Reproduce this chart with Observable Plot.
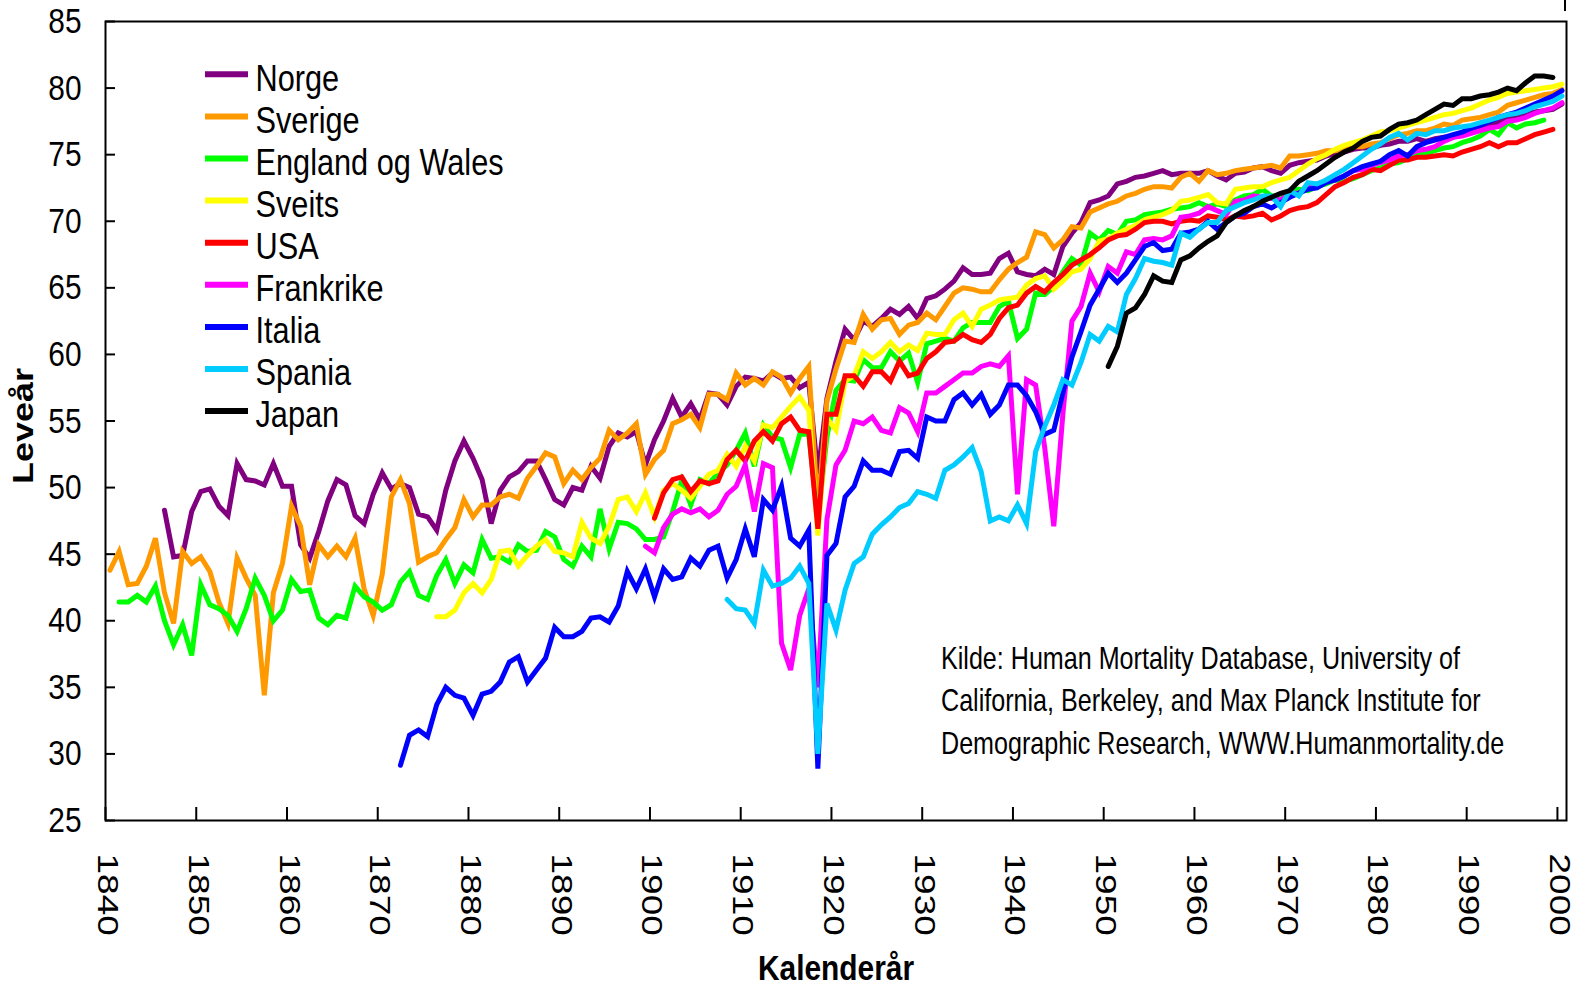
<!DOCTYPE html>
<html><head><meta charset="utf-8">
<script src="https://cdn.jsdelivr.net/npm/d3@7"></script>
<script src="https://cdn.jsdelivr.net/npm/@observablehq/plot@0.6"></script>
<style>body{margin:0;background:#fff} #chart{width:1579px;height:987px}</style>
</head><body><div id="chart"></div>
<script>
const countries = ["Norge","Sverige","England og Wales","Sveits","USA","Frankrike","Italia","Spania","Japan"];
const colors = ["#800080","#FF9900","#00FF00","#FFFF00","#FF0000","#FF00FF","#0000FF","#00CCFF","#000000"];
const startYears = [1846,1840,1841,1876,1900,1899,1872,1908,1950];
const xTicks = [1840,1850,1860,1870,1880,1890,1900,1910,1920,1930,1940,1950,1960,1970,1980,1990,2000];
const yTicks = [25,30,35,40,45,50,55,60,65,70,75,80,85];

const norge = [48.3,44.8,44.9,48.2,
49.7,49.9,48.6,47.9,51.8,50.6,50.5,50.2,51.8,50.1,
50.1,45.7,44.7,46.7,49.0,50.6,50.2,47.9,47.3,49.5,
51.1,49.9,50.3,50.0,48.0,47.8,46.8,49.8,52.0,53.5,
52.2,50.6,47.3,49.8,50.8,51.2,52.0,52.0,50.6,49.1,
48.7,50.0,49.8,51.6,50.7,53.1,54.1,53.8,54.2,51.7,
53.6,55.0,56.7,55.3,56.3,55.1,57.1,57.0,56.2,57.6,
58.3,58.2,58.0,58.6,58.2,58.3,57.5,57.9,51.0,56.7,
59.5,61.9,61.1,62.5,62.1,62.7,63.4,63.0,63.6,62.7,
64.2,64.4,64.9,65.5,66.5,66.0,66.0,66.1,67.2,67.6,
66.2,66.0,65.9,66.4,66.0,68.1,69.1,69.9,71.4,71.6,
71.9,72.8,73.0,73.3,73.4,73.6,73.8,73.5,73.6,73.6,
73.6,73.8,73.4,73.1,73.6,73.7,74.0,74.1,73.8,73.6,
74.2,74.4,74.5,74.6,74.9,75.1,75.2,75.4,75.5,75.5,
75.7,75.8,76.0,76.0,76.2,76.0,76.2,76.3,76.3,76.6,
76.7,77.0,77.3,77.4,77.8,77.8,78.1,78.2,78.3,78.4,
78.8];

const sverige = [43.8,45.2,42.7,42.8,44.1,46.2,42.1,39.8,45.2,44.3,
44.8,43.7,41.4,39.8,44.7,43.2,41.9,34.4,42.1,44.3,
48.6,47.1,42.7,45.7,44.8,45.6,44.8,46.2,42.4,40.4,
43.5,49.3,50.6,48.8,44.4,44.8,45.1,46.1,47.0,49.1,
47.8,48.7,48.7,49.3,49.5,49.2,50.7,51.6,52.6,52.3,
50.3,51.3,50.6,51.5,52.2,54.3,53.6,54.1,54.8,51.0,
52.1,52.8,54.8,55.1,55.5,54.5,57.0,57.0,56.6,58.6,
57.7,58.2,57.7,58.7,58.3,57.1,58.2,59.1,48.3,56.5,
58.9,61.0,60.9,63.0,61.9,62.6,62.7,61.5,62.2,62.4,
63.1,62.6,63.6,64.6,65.0,64.9,64.7,64.7,65.6,66.4,
66.9,67.3,69.2,69.0,68.0,68.6,69.6,69.5,70.7,71.0,
71.3,71.5,71.9,72.1,72.4,72.6,72.6,72.5,73.3,73.6,
73.0,73.8,73.5,73.6,73.8,73.9,74.0,74.1,74.2,74.0,
74.9,74.9,75.0,75.1,75.3,75.3,75.4,75.6,75.6,75.8,
75.9,76.2,76.5,76.6,76.8,76.8,77.0,77.3,77.2,77.6,
77.7,77.8,78.0,78.2,78.7,78.9,79.1,79.3,79.5,79.6,
79.9];

const england = [41.4,41.4,41.9,41.4,42.6,40.0,38.2,39.7,37.4,
42.7,41.2,40.9,40.4,39.2,40.9,43.2,41.9,40.0,40.8,
43.1,42.2,42.3,40.2,39.7,40.4,40.2,42.6,41.8,41.4,
40.8,41.2,42.9,43.7,41.9,41.6,43.4,44.6,42.8,44.2,
43.6,46.1,44.7,44.8,44.4,45.7,45.2,45.3,46.7,46.3,
44.6,44.1,45.6,44.8,48.4,45.4,47.4,47.3,46.9,46.1,
46.1,46.3,48.2,50.5,48.7,50.6,50.3,51.1,51.7,52.8,
54.1,51.6,54.7,53.8,53.6,51.5,54.0,54.0,47.6,53.8,
57.3,58.1,58.0,59.6,59.0,59.0,60.2,59.5,60.1,57.9,
60.8,61.0,61.2,61.0,62.0,62.4,62.4,62.4,63.6,64.0,
61.2,61.9,64.6,64.5,65.1,66.2,67.2,66.7,69.1,68.6,
69.3,69.0,70.0,70.1,70.5,70.6,70.7,70.9,71.0,71.1,
71.4,71.1,71.3,71.1,71.6,71.9,72.0,72.4,71.9,71.9,
72.3,72.4,72.3,72.6,72.8,73.1,73.0,73.2,73.5,73.8,
74.0,74.3,74.4,74.7,75.0,75.1,75.3,75.5,75.6,75.9,
76.1,76.4,76.9,76.5,77.4,77.0,77.3,77.4,77.6];

const sveits = [40.3,40.3,40.8,42.1,
42.8,42.1,43.1,45.2,45.3,44.1,44.9,45.6,46.1,45.2,
45.1,44.8,47.4,46.2,45.8,47.1,49.1,49.3,48.2,49.6,
47.8,49.8,50.3,49.8,49.2,50.1,51.0,51.3,52.5,51.6,
53.1,52.0,54.7,54.5,55.3,56.1,56.8,55.8,46.4,55.2,
54.3,58.0,58.4,60.2,59.7,60.2,60.9,60.2,60.7,60.3,
61.6,61.5,61.5,62.6,63.1,62.1,63.4,63.7,64.1,64.2,
64.3,65.2,65.7,65.9,64.9,65.5,66.2,66.4,67.2,68.5,
68.7,69.1,69.4,69.7,70.1,70.3,70.5,70.8,71.5,71.6,
71.8,72.0,71.4,71.3,72.4,72.5,72.6,72.6,72.9,73.1,
73.3,73.8,74.3,74.7,75.0,75.4,75.7,75.9,76.1,76.4,
76.7,76.8,77.0,77.2,77.4,77.6,77.8,78.0,78.1,78.3,
78.5,78.8,79.1,79.3,79.6,79.7,79.8,79.9,80.0,80.1,
80.3];

const usa = [47.7,49.6,50.6,50.8,49.7,50.5,50.3,50.5,52.1,52.8,
52.0,53.5,54.2,53.5,54.8,55.3,54.3,54.2,46.9,55.5,
55.5,58.4,58.4,57.6,58.7,58.7,58.0,59.5,58.4,58.6,
59.7,60.2,60.9,61.0,61.5,61.1,60.9,61.5,62.7,63.5,
63.7,64.6,65.1,64.7,65.4,66.0,66.7,67.1,67.5,68.0,
68.6,68.9,69.0,69.4,69.9,70.0,70.0,69.8,70.0,70.1,
70.0,70.4,70.3,70.1,70.4,70.3,70.4,70.6,70.1,70.4,
70.8,71.0,71.1,71.4,72.0,72.6,72.9,73.3,73.5,73.9,
73.8,74.2,74.6,74.6,74.8,74.8,74.9,75.0,74.9,75.2,
75.4,75.6,75.9,75.6,75.9,75.9,76.2,76.5,76.7,76.9];

const frankrike = [45.6,
45.1,47.0,48.0,48.4,48.1,48.4,47.8,48.3,49.5,50.1,
51.7,48.2,51.8,51.5,38.3,36.3,40.4,42.4,35.0,47.6,
51.7,52.8,55.0,54.8,55.3,54.3,54.1,56.0,55.6,54.2,
57.1,57.1,57.6,58.1,58.6,58.6,59.1,59.3,59.1,59.9,
49.5,58.1,57.7,53.0,47.1,55.5,62.5,63.6,66.1,64.7,
66.6,66.1,67.7,67.5,68.6,68.7,68.6,68.9,70.3,70.4,
70.6,71.1,70.8,70.5,71.5,71.6,71.9,71.8,71.7,71.6,
72.1,72.1,72.6,72.8,73.0,73.1,73.4,73.8,73.9,74.2,
74.4,74.6,74.9,75.0,75.3,75.4,75.6,76.0,76.3,76.4,
76.6,76.8,77.0,77.1,77.5,77.6,77.8,78.1,78.3,78.5,
78.9];

const italia = [29.15,31.4,31.8,31.3,33.7,35.0,34.4,34.2,
32.9,34.5,34.7,35.4,36.9,37.3,35.4,36.3,37.2,39.5,
38.8,38.8,39.2,40.2,40.3,39.9,41.1,43.7,42.4,43.9,
41.8,43.9,43.1,43.3,44.7,44.1,45.3,45.6,43.2,44.6,
46.9,44.8,49.1,48.3,50.1,46.2,45.6,46.8,28.9,44.9,
45.8,49.3,50.1,52.0,51.3,51.3,51.0,52.7,52.8,52.2,
55.3,55.0,55.0,56.6,57.1,56.2,57.0,55.5,56.2,57.7,
57.7,56.9,55.7,54.0,54.3,57.1,59.8,61.7,63.7,64.9,
66.1,65.4,66.1,67.1,68.1,68.4,67.8,67.9,69.1,69.2,
69.4,70.0,69.4,69.9,70.4,70.6,71.1,71.3,71.0,71.4,
71.8,72.1,72.4,72.5,72.9,73.1,73.4,73.8,74.1,74.3,
74.5,75.0,75.3,74.9,75.6,75.9,76.1,76.3,76.5,76.7,
77.0,77.2,77.5,77.8,78.0,78.2,78.5,78.8,79.1,79.4,
79.8];

const spania = [41.6,40.9,
40.8,39.8,43.8,42.6,42.8,43.2,44.1,42.8,30.0,41.3,
39.3,42.3,44.3,44.8,46.5,47.2,47.8,48.5,48.8,49.7,
49.5,49.2,51.3,51.7,52.3,53.0,51.2,47.5,47.8,47.5,
48.7,47.3,52.7,54.6,56.2,58.1,57.7,59.4,61.5,61.0,
62.1,61.7,64.5,65.7,67.2,67.0,66.9,66.7,69.1,68.8,
69.4,69.9,69.9,70.8,71.1,71.4,71.6,71.9,71.9,71.1,
72.3,71.9,72.9,72.8,73.1,73.5,73.9,74.4,74.9,75.4,
75.8,76.3,76.6,76.1,76.6,76.5,76.8,76.8,77.0,77.1,
77.2,77.4,77.6,77.8,78.0,78.1,78.3,78.6,78.8,79.0,
79.4];

const japan = [59.1,60.6,63.1,63.5,64.5,65.9,65.5,65.4,67.1,67.4,
68.0,68.5,68.9,69.9,70.4,70.8,71.1,71.5,71.8,72.1,
72.3,73.0,73.4,73.8,74.3,74.8,75.2,75.5,76.0,76.3,
76.4,76.9,77.3,77.4,77.6,78.0,78.4,78.8,78.7,79.2,
79.2,79.4,79.5,79.7,80.0,79.8,80.4,80.9,80.9,80.8];

const sourceText = "Kilde: Human Mortality Database, University of\nCalifornia, Berkeley, and Max Planck Institute for\nDemographic Research, WWW.Humanmortality.de";
const xTitle = "Kalenderår";
const yTitle = "Leveår";

const valueArrays = [norge, sverige, england, sveits, usa, frankrike, italia, spania, japan];
const series = countries.map((name, i) => ({
  name, color: colors[i],
  rows: valueArrays[i].map((v, k) => ({country: name, year: startYears[i] + k, value: v}))
}));

const W = 1579, H = 987;
const mL = 105, mR = 13, mT = 21, mB = 167;
const plotW = W - mL - mR, plotH = H - mT - mB;
const font = "'Liberation Sans', Arial, Helvetica, sans-serif";

const svg = Plot.plot({
  width: W, height: H,
  marginLeft: mL, marginRight: mR, marginTop: mT, marginBottom: mB,
  x: {domain: [1840, 2001], axis: null},
  y: {domain: [25, 85], axis: null},
  style: {fontFamily: font, background: "white", color: "black", overflow: "visible"},
  marks: [
    ...series.map(s => Plot.line(s.rows, {
      x: d => d.year + 0.5, y: "value", stroke: s.color, strokeWidth: 5,
      strokeLinejoin: "miter", strokeMiterlimit: 4
    })),
    Plot.tickY(yTicks, {y: d => d, stroke: "black", strokeWidth: 2, insetRight: plotW - 10}),
    Plot.tickX(xTicks, {x: d => d, stroke: "black", strokeWidth: 2, insetTop: plotH - 13}),
    Plot.frame({stroke: "black", strokeWidth: 2}),
    Plot.axisY(yTicks, {tickSize: 0, tickPadding: 24, fontSize: 36, label: null}),
    Plot.axisX(xTicks, {tickSize: 0, tickPadding: 33, tickRotate: 90, fontSize: 37, dx: 2,
      label: null, tickFormat: d => String(d)}),
    Plot.text([xTitle], {frameAnchor: "bottom", dy: 159, textAnchor: "middle", lineAnchor: "bottom",
      fontSize: 36, fontWeight: "bold"}),
    Plot.text([yTitle], {frameAnchor: "left", dx: -82, dy: 5, rotate: -90, textAnchor: "middle",
      lineAnchor: "middle", fontSize: 36, fontWeight: "bold"}),
    ...countries.map((c, i) => Plot.text([c], {
      frameAnchor: "top-left", dx: 150, dy: 69 + i * 42.1, textAnchor: "start", lineAnchor: "bottom",
      fontSize: 37
    })),
    Plot.text([sourceText], {frameAnchor: "top-left", dx: 835.5, dy: 617, textAnchor: "start",
      lineAnchor: "top", fontSize: 32, lineHeight: 1.33})
  ]
});

// legend swatches and small decoration
const g = d3.select(svg).append("g").attr("class", "legend-swatches");
countries.forEach((c, i) => {
  const yy = 74.3 + i * 42.1;
  g.append("line").attr("x1", 205).attr("x2", 248).attr("y1", yy).attr("y2", yy)
    .attr("stroke", colors[i]).attr("stroke-width", 6);
});
d3.select(svg).append("line").attr("x1", 1565).attr("x2", 1565).attr("y1", 0).attr("y2", 11)
  .attr("stroke", "black").attr("stroke-width", 2);

// the original uses a condensed face: compress glyphs horizontally
d3.select(svg).selectAll("text").each(function() {
  const t = this.getAttribute("transform") || "";
  if (t.includes("rotate(")) {
    this.setAttribute("transform", t + " scale(1,0.8)");
  } else {
    const sx = this.textContent.startsWith("Kilde") ? 0.785 : 0.83;
    this.setAttribute("transform", (t ? t + " " : "") + `scale(${sx},1)`);
  }
});

document.getElementById("chart").appendChild(svg);
</script>
</body></html>
